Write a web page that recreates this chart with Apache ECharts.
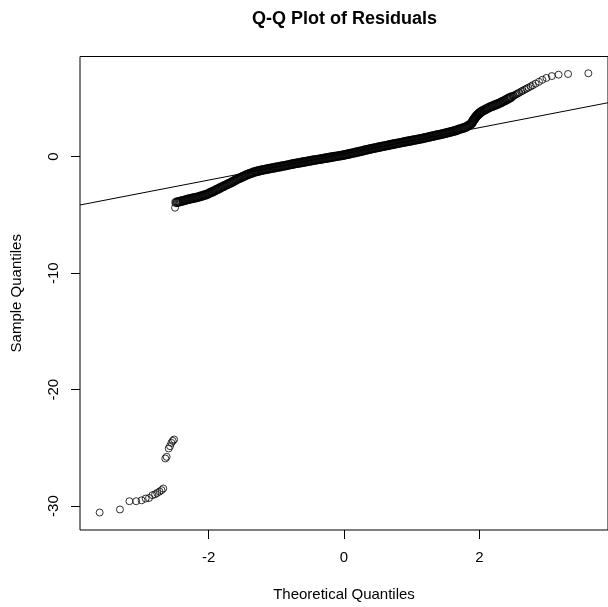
<!DOCTYPE html>
<html>
<head>
<meta charset="utf-8">
<title>Q-Q Plot of Residuals</title>
<script src="https://cdn.jsdelivr.net/npm/echarts@6/dist/echarts.min.js"></script>
<style>
  html, body { margin: 0; padding: 0; background: #fff; }
  #chart { width: 608px; height: 607px; }
</style>
</head>
<body>
<div id="chart"></div>
<script>
// Lower tail: the most negative residuals (theoretical vs sample quantiles)
const lowerTailX = [-3.61, -3.31, -3.17, -3.07, -2.99, -2.93, -2.88, -2.83, -2.79, -2.76, -2.725,
  -2.695, -2.67, -2.64, -2.62, -2.59, -2.57, -2.55, -2.53, -2.51, -2.496];
const lowerTailY = [-30.55, -30.29, -29.58, -29.58, -29.50, -29.35, -29.30, -29.06, -28.98, -28.87, -28.75,
  -28.63, -28.49, -25.91, -25.77, -25.05, -24.85, -24.57, -24.40, -24.28, -4.38];

// Body of the distribution
const bodyX = [
  -2.48, -2.46, -2.44, -2.42, -2.40, -2.38, -2.36, -2.34, -2.32, -2.30, -2.28, -2.26, -2.24, -2.22, -2.20,
  -2.18, -2.16, -2.14, -2.12, -2.10, -2.08, -2.06, -2.04, -2.02, -2.00, -1.98, -1.96, -1.94, -1.92, -1.90,
  -1.88, -1.86, -1.84, -1.82, -1.80, -1.78, -1.76, -1.74, -1.72, -1.70, -1.68, -1.66, -1.64, -1.62, -1.60,
  -1.58, -1.56, -1.54, -1.52, -1.50, -1.48, -1.46, -1.44, -1.42, -1.40, -1.38, -1.36, -1.34, -1.32, -1.30,
  -1.28, -1.26, -1.24, -1.22, -1.20, -1.18, -1.16, -1.14, -1.12, -1.10, -1.08, -1.06, -1.04, -1.02, -1.00,
  -0.98, -0.96, -0.94, -0.92, -0.90, -0.88, -0.86, -0.84, -0.82, -0.80, -0.78, -0.76, -0.74, -0.72, -0.70,
  -0.68, -0.66, -0.64, -0.62, -0.60, -0.58, -0.56, -0.54, -0.52, -0.50, -0.48, -0.46, -0.44, -0.42, -0.40,
  -0.38, -0.36, -0.34, -0.32, -0.30, -0.28, -0.26, -0.24, -0.22, -0.20, -0.18, -0.16, -0.14, -0.12, -0.10,
  -0.08, -0.06, -0.04, -0.02, 0.00, 0.02, 0.04, 0.06, 0.08, 0.10, 0.12, 0.14, 0.16, 0.18, 0.20,
  0.22, 0.24, 0.26, 0.28, 0.30, 0.32, 0.34, 0.36, 0.38, 0.40, 0.42, 0.44, 0.46, 0.48, 0.50,
  0.52, 0.54, 0.56, 0.58, 0.60, 0.62, 0.64, 0.66, 0.68, 0.70, 0.72, 0.74, 0.76, 0.78, 0.80,
  0.82, 0.84, 0.86, 0.88, 0.90, 0.92, 0.94, 0.96, 0.98, 1.00, 1.02, 1.04, 1.06, 1.08, 1.10,
  1.12, 1.14, 1.16, 1.18, 1.20, 1.22, 1.24, 1.26, 1.28, 1.30, 1.32, 1.34, 1.36, 1.38, 1.40,
  1.42, 1.44, 1.46, 1.48, 1.50, 1.52, 1.54, 1.56, 1.58, 1.60, 1.62, 1.64, 1.66, 1.68, 1.70,
  1.72, 1.74, 1.76, 1.78, 1.80, 1.82, 1.84, 1.86, 1.88, 1.89, 1.90, 1.91, 1.92, 1.93, 1.94,
  1.95, 1.96, 1.97, 1.98, 1.99, 2.00, 2.01, 2.02, 2.03, 2.05, 2.07, 2.09, 2.11, 2.13, 2.15,
  2.17, 2.19, 2.21, 2.23, 2.25, 2.27, 2.29, 2.31, 2.33, 2.35, 2.37, 2.39, 2.41, 2.43, 2.45,
  2.47
];
const bodyY = [
  -3.93, -3.90, -3.88, -3.85, -3.82, -3.79, -3.76, -3.72, -3.69, -3.66, -3.63, -3.61, -3.58, -3.56, -3.53,
  -3.51, -3.48, -3.44, -3.41, -3.37, -3.34, -3.30, -3.27, -3.22, -3.17, -3.11, -3.06, -3.01, -2.95, -2.89,
  -2.83, -2.78, -2.72, -2.66, -2.60, -2.54, -2.49, -2.43, -2.37, -2.32, -2.26, -2.20, -2.14, -2.08, -2.01,
  -1.95, -1.89, -1.84, -1.79, -1.73, -1.68, -1.62, -1.57, -1.53, -1.48, -1.44, -1.40, -1.35, -1.31, -1.28,
  -1.25, -1.22, -1.20, -1.17, -1.14, -1.12, -1.10, -1.07, -1.05, -1.03, -1.01, -0.98, -0.96, -0.94, -0.92,
  -0.89, -0.87, -0.85, -0.83, -0.80, -0.78, -0.76, -0.73, -0.71, -0.69, -0.66, -0.64, -0.62, -0.59, -0.57,
  -0.55, -0.53, -0.51, -0.49, -0.47, -0.45, -0.43, -0.40, -0.38, -0.36, -0.34, -0.32, -0.30, -0.28, -0.26,
  -0.24, -0.22, -0.20, -0.18, -0.16, -0.14, -0.12, -0.10, -0.08, -0.06, -0.04, -0.02, 0.00, 0.02, 0.04,
  0.06, 0.08, 0.10, 0.12, 0.14, 0.17, 0.19, 0.22, 0.24, 0.27, 0.30, 0.32, 0.35, 0.37, 0.40,
  0.43, 0.45, 0.48, 0.51, 0.54, 0.56, 0.59, 0.62, 0.65, 0.67, 0.70, 0.72, 0.75, 0.77, 0.80,
  0.82, 0.84, 0.87, 0.89, 0.92, 0.94, 0.96, 0.99, 1.01, 1.04, 1.06, 1.08, 1.11, 1.13, 1.15,
  1.18, 1.20, 1.22, 1.25, 1.27, 1.29, 1.31, 1.34, 1.36, 1.38, 1.40, 1.43, 1.45, 1.47, 1.49,
  1.52, 1.54, 1.56, 1.59, 1.61, 1.64, 1.67, 1.69, 1.72, 1.75, 1.77, 1.80, 1.83, 1.85, 1.88,
  1.90, 1.93, 1.96, 1.98, 2.01, 2.04, 2.07, 2.10, 2.13, 2.16, 2.19, 2.22, 2.26, 2.30, 2.34,
  2.38, 2.42, 2.45, 2.49, 2.53, 2.60, 2.67, 2.74, 2.81, 2.91, 3.01, 3.11, 3.19, 3.27, 3.36,
  3.44, 3.50, 3.56, 3.61, 3.67, 3.72, 3.77, 3.82, 3.87, 3.93, 3.99, 4.05, 4.12, 4.18, 4.24,
  4.29, 4.33, 4.38, 4.43, 4.47, 4.52, 4.57, 4.62, 4.68, 4.74, 4.80, 4.86, 4.93, 4.99, 5.05,
  5.12
];

// Upper tail: the largest residuals
const upperTailX = [2.496, 2.51, 2.53, 2.55, 2.57, 2.59, 2.62, 2.64, 2.67, 2.695, 2.725,
  2.76, 2.79, 2.83, 2.88, 2.93, 2.99, 3.07, 3.17, 3.31, 3.61];
const upperTailY = [5.20, 5.24, 5.31, 5.37, 5.44, 5.50, 5.60, 5.66, 5.76, 5.84, 5.93,
  6.04, 6.14, 6.27, 6.43, 6.60, 6.76, 6.92, 7.04, 7.10, 7.16];

// Reference line through the first and third quartiles, spanning the plotted range
const refLineX = [-3.9, 3.9];
const refLineY = [-4.15, 4.63];

// Axis extents and tick marks
const xRange = [-3.9, 3.9];
const yRange = [-32.05, 8.6];
const xTicks = [-2, 0, 2];
const yTicks = [-30, -20, -10, 0];

const zip = (xs, ys) => xs.map((x, i) => [x, ys[i]]);
const tailPoints = zip(lowerTailX, lowerTailY).concat(zip(upperTailX, upperTailY));
const bodyPoints = zip(bodyX, bodyY);

const FONT = '"Liberation Sans", Arial, Helvetica, sans-serif';
const INK = '#000';

const openCircle = (size, width) => ({
  type: 'scatter',
  symbol: 'circle',
  symbolSize: size,
  silent: true,
  clip: true,
  itemStyle: { color: 'rgba(0,0,0,0)', borderColor: INK, borderWidth: width },
  z: 2
});

const chart = echarts.init(document.getElementById('chart'), null, { renderer: 'canvas' });
chart.setOption({
  animation: false,
  backgroundColor: '#fff',
  graphic: [{
    type: 'text',
    x: 344.5,
    y: 19.5,
    style: {
      text: 'Q-Q Plot of Residuals',
      font: 'bold 18px ' + FONT,
      fill: INK,
      textAlign: 'center',
      textVerticalAlign: 'middle'
    }
  }],
  grid: {
    left: 80,
    right: -1,
    top: 56.5,
    bottom: 77,
    show: true,
    borderColor: INK,
    borderWidth: 1,
    backgroundColor: 'transparent'
  },
  xAxis: {
    type: 'value',
    min: xRange[0],
    max: xRange[1],
    name: 'Theoretical Quantiles',
    nameLocation: 'middle',
    nameGap: 57,
    nameTextStyle: { fontFamily: FONT, fontSize: 15, color: INK },
    axisLine: { show: false, onZero: false },
    splitLine: { show: false },
    axisTick: { show: true, inside: false, length: 9, customValues: xTicks, lineStyle: { color: INK, width: 1 } },
    axisLabel: { customValues: xTicks, margin: 20, fontFamily: FONT, fontSize: 15, color: INK }
  },
  yAxis: {
    type: 'value',
    min: yRange[0],
    max: yRange[1],
    name: 'Sample Quantiles',
    nameLocation: 'middle',
    nameGap: 56,
    nameTextStyle: { fontFamily: FONT, fontSize: 15, color: INK },
    axisLine: { show: false, onZero: false },
    splitLine: { show: false },
    axisTick: { show: true, inside: false, length: 9, customValues: yTicks, lineStyle: { color: INK, width: 1 } },
    axisLabel: { customValues: yTicks, rotate: 90, margin: 19, fontFamily: FONT, fontSize: 15, color: INK }
  },
  series: [
    {
      type: 'line',
      data: zip(refLineX, refLineY),
      showSymbol: false,
      silent: true,
      clip: true,
      lineStyle: { color: INK, width: 1 },
      z: 3
    },
    Object.assign(openCircle(8, 1.6), { data: bodyPoints }),
    Object.assign(openCircle(7, 1), { data: tailPoints })
  ]
});
</script>
</body>
</html>
